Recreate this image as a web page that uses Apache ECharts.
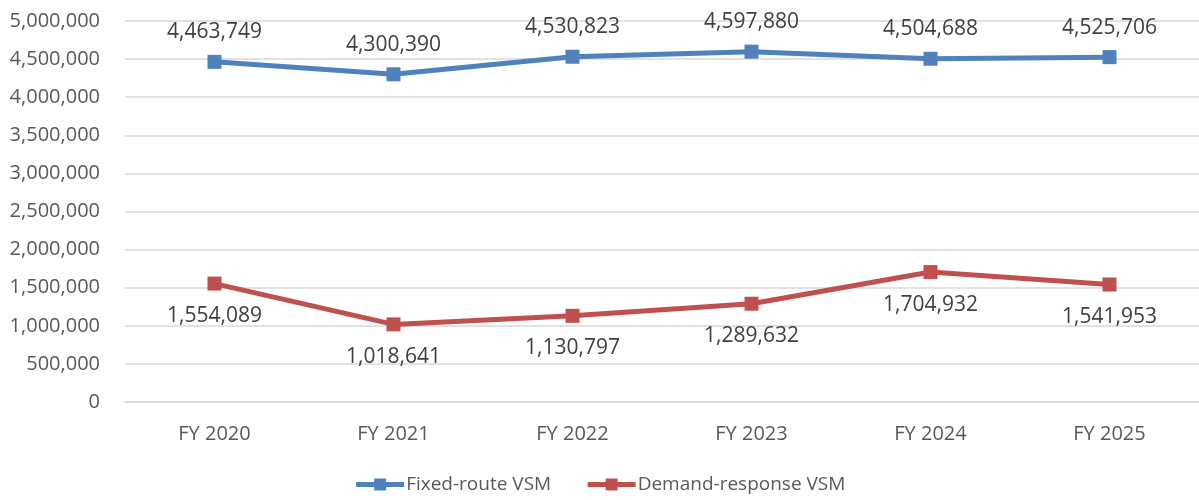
<!DOCTYPE html>
<html>
<head>
<meta charset="utf-8">
<script src="https://cdn.jsdelivr.net/npm/echarts@6/dist/echarts.min.js"></script>
<style>
  html, body { margin: 0; padding: 0; background: #fff; }
  #chart { width: 1199px; height: 500px; }
</style>
</head>
<body>
<div id="chart"></div>
<script>
const years = ['FY 2020', 'FY 2021', 'FY 2022', 'FY 2023', 'FY 2024', 'FY 2025']
const fixedRoute = [4463749, 4300390, 4530823, 4597880, 4504688, 4525706]
const demandResponse = [1554089, 1018641, 1130797, 1289632, 1704932, 1541953]

const font = 'Open Sans'
const fmt = v => v.toLocaleString('en-US')

const chart = echarts.init(document.getElementById('chart'))

chart.setOption({
  animation: false,
  textStyle: { fontFamily: font },
  grid: { left: 125, right: -8, top: 21, bottom: 98, containLabel: false },
  legend: {
    bottom: 1,
    left: 'center',
    itemWidth: 48,
    itemHeight: 15,
    itemGap: 34,
    lineStyle: { width: 5 },
    textStyle: { fontSize: 19, color: '#595959', fontFamily: font, padding: [0, 0, 0, -3] },
    data: ['Fixed-route VSM', 'Demand-response VSM']
  },
  xAxis: {
    type: 'category',
    data: years,
    axisTick: { show: false },
    axisLine: { lineStyle: { color: '#d9d9d9', width: 1.5 } },
    axisLabel: { color: '#595959', fontSize: 20, margin: 22 }
  },
  yAxis: {
    type: 'value',
    min: 0,
    max: 5000000,
    interval: 500000,
    axisLine: { show: false },
    axisTick: { show: false },
    splitLine: { lineStyle: { color: '#d9d9d9', width: 1.5 } },
    axisLabel: { color: '#595959', fontSize: 20, margin: 25, formatter: fmt }
  },
  series: [
    {
      name: 'Fixed-route VSM',
      type: 'line',
      data: fixedRoute,
      symbol: 'rect',
      symbolSize: 14,
      color: '#4f81bd',
      lineStyle: { width: 5, color: '#4f81bd' },
      itemStyle: { color: '#4f81bd' },
      label: {
        show: true,
        position: 'top',
        distance: 12,
        fontSize: 21,
        color: '#404040',
        formatter: p => fmt(p.value)
      }
    },
    {
      name: 'Demand-response VSM',
      type: 'line',
      data: demandResponse,
      symbol: 'rect',
      symbolSize: 14,
      color: '#c0504d',
      lineStyle: { width: 5, color: '#c0504d' },
      itemStyle: { color: '#c0504d' },
      label: {
        show: true,
        position: 'bottom',
        distance: 15,
        fontSize: 21,
        color: '#404040',
        formatter: p => fmt(p.value)
      }
    }
  ]
})
</script>
</body>
</html>
